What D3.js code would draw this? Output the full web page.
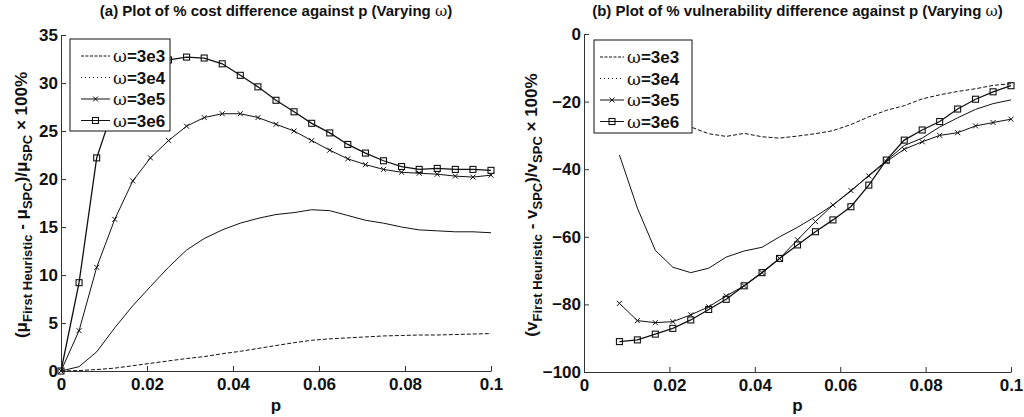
<!DOCTYPE html>
<html>
<head>
<meta charset="utf-8">
<script src="https://cdn.jsdelivr.net/npm/d3@7/dist/d3.min.js"></script>
<style>
  html, body { margin: 0; padding: 0; background: #fff; }
  svg { display: block; }
  text { font-family: "Liberation Sans", Arial, sans-serif; font-weight: bold; fill: #111; }
</style>
</head>
<body>
<svg id="chart" width="1024" height="417"></svg>
<script>
// ---- data ----
const pValues = [0, 0.0042, 0.0083, 0.0125, 0.0167, 0.0208, 0.025, 0.0292, 0.0333, 0.0375, 0.0417, 0.0458,
  0.05, 0.0542, 0.0583, 0.0625, 0.0667, 0.0708, 0.075, 0.0792, 0.0833, 0.0875, 0.0917, 0.0958, 0.1];

const seriesNames = ["3e3", "3e4", "3e5", "3e6"];

// (a) % cost difference
const cost3e3 = [0, 0.05, 0.15, 0.3, 0.55, 0.8, 1.05, 1.3, 1.5, 1.8, 2.05, 2.35, 2.65, 2.95, 3.2, 3.35, 3.45, 3.55, 3.65, 3.7, 3.75, 3.75, 3.8, 3.85, 3.9];
const cost3e4 = [0, 0.45, 2.0, 4.5, 6.8, 8.8, 10.8, 12.6, 13.8, 14.7, 15.4, 15.9, 16.3, 16.5, 16.8, 16.7, 16.2, 15.7, 15.4, 15.0, 14.7, 14.6, 14.5, 14.5, 14.4];
const cost3e5 = [0, 4.2, 10.8, 15.8, 19.8, 22.2, 24.0, 25.5, 26.4, 26.8, 26.8, 26.4, 25.7, 25.0, 24.0, 23.0, 22.1, 21.5, 21.0, 20.7, 20.6, 20.5, 20.3, 20.2, 20.4];
const cost3e6 = [0, 9.2, 22.2, 27.8, 31.0, 32.3, 32.4, 32.7, 32.6, 32.0, 30.8, 29.6, 28.2, 27.0, 25.8, 24.8, 23.6, 22.7, 21.9, 21.3, 21.0, 21.1, 21.0, 21.0, 20.9];

// (b) % vulnerability difference (starts at pValues[2])
const vulStart = 2;
const vul3e3 = [-20, -23, -25, -26.5, -27.5, -29.5, -30.3, -29.4, -30.4, -30.8, -30.2, -29.5, -28.6, -26.8, -24.5, -22.6, -21.2, -19.2, -18.0, -17.0, -16.2, -15.2, -14.7];
const vul3e4 = [-35.8, -51.5, -64, -69, -70.6, -69.3, -66, -64.2, -63.1, -60, -57.2, -54, -50.6, -46.5, -41.8, -37.5, -33, -30.8, -27.5, -24.8, -22.3, -20.6, -19.5];
const vul3e5 = [-79.7, -84.8, -85.4, -85.1, -83.1, -80.7, -77.5, -74.5, -70.6, -66.4, -60.9, -55.5, -50.6, -46.3, -42.0, -37.8, -34.1, -31.9, -30.0, -29.2, -27.2, -26.2, -25.2];
const vul3e6 = [-91.0, -90.5, -88.8, -87.1, -84.6, -81.5, -78.5, -74.5, -70.6, -66.4, -62.4, -58.5, -55.0, -51.1, -44.7, -37.3, -31.4, -28.4, -25.9, -22.2, -19.3, -17.1, -15.3];

const xTicks = [0, 0.02, 0.04, 0.06, 0.08, 0.1];
const yTicksA = [0, 5, 10, 15, 20, 25, 30, 35];
const yTicksB = [-100, -80, -60, -40, -20, 0];

// ---- styles per series ----
const styles = {
  "3e3": { dash: "4,2", width: 1, marker: null, legendDash: "3,1.5" },
  "3e4": { dash: null, width: 1, marker: null, legendDash: "1,3" },
  "3e5": { dash: null, width: 1, marker: "x", legendDash: null },
  "3e6": { dash: null, width: 1.3, marker: "square", legendDash: null }
};

const svg = d3.select("#chart");
svg.append("rect").attr("width", 1024).attr("height", 417).attr("fill", "#fff");

function drawPanel(cfg) {
  const x = d3.scaleLinear().domain([0, 0.1]).range(cfg.xr);
  const y = d3.scaleLinear().domain(cfg.ydom).range(cfg.yr);
  const g = svg.append("g");

  // axes
  const xAxis = d3.axisBottom(x).tickValues(xTicks).tickSizeInner(-5).tickSizeOuter(0).tickPadding(7)
    .tickFormat(d => d === 0 ? "0" : d === 0.1 ? "0.1" : d3.format(".2f")(d));
  const yAxis = d3.axisLeft(y).tickValues(cfg.yticks).tickSizeInner(-5).tickSizeOuter(0).tickPadding(3)
    .tickFormat(d3.format("d"));
  const gx = g.append("g").attr("transform", `translate(0,${cfg.yr[0]})`).call(xAxis);
  const gy = g.append("g").attr("transform", `translate(${cfg.xr[0]},0)`).call(yAxis);
  [gx, gy].forEach(a => {
    a.selectAll("path.domain").attr("stroke", "#333").attr("stroke-width", 1);
    a.selectAll(".tick line").attr("stroke", "#333");
    a.selectAll(".tick text").attr("font-size", 17).attr("font-weight", "bold")
      .attr("font-family", "'Liberation Sans', Arial, sans-serif").attr("fill", "#111");
  });

  // series
  const line = d3.line().x(d => x(d[0])).y(d => y(d[1]));
  cfg.series.forEach((vals, i) => {
    const name = seriesNames[i];
    const st = styles[name];
    const pts = vals.map((v, j) => [pValues[j + cfg.start], v]);
    g.append("path").attr("d", line(pts)).attr("fill", "none").attr("stroke", "#111")
      .attr("stroke-width", st.width).attr("stroke-dasharray", st.dash);
    if (st.marker) drawMarkers(g, pts.map(p => [x(p[0]), y(p[1])]), st.marker);
  });

  // title
  svg.append("text").attr("x", (cfg.xr[0] + cfg.xr[1]) / 2).attr("y", 16)
    .attr("text-anchor", "middle").attr("font-size", 15)
    .call(t => {
      t.append("tspan").text(cfg.title);
      t.append("tspan").attr("font-family", "'DejaVu Serif', serif").attr("font-weight", "normal").text("ω");
      t.append("tspan").text(")");
    });

  // x label
  svg.append("text").attr("x", (cfg.xr[0] + cfg.xr[1]) / 2).attr("y", 411)
    .attr("text-anchor", "middle").attr("font-size", 17).text("p");

  // y label
  const yl = svg.append("text")
    .attr("transform", `translate(${cfg.ylx},${(cfg.yr[0] + cfg.yr[1]) / 2 + 2}) rotate(-90)`)
    .attr("text-anchor", "middle").attr("font-size", 17);
  const sym = cfg.sym;
  const parts = [
    ["(" + sym, 0], ["First Heuristic", 1], [" - " + sym, 0], ["SPC", 1], [")/" + sym, 0], ["SPC", 1], [" × 100%", 0]
  ];
  let prev = 0;
  parts.forEach(([txt, sub]) => {
    const dy = (sub ? 5 : 0) - prev;
    prev = sub ? 5 : 0;
    yl.append("tspan").attr("dy", dy).attr("font-size", sub ? 13 : 17).text(txt);
  });

  // legend
  const lg = svg.append("g");
  const L = cfg.legend;
  lg.append("rect").attr("x", L.x).attr("y", L.y).attr("width", L.w).attr("height", L.h)
    .attr("fill", "#fff").attr("stroke", "#111").attr("stroke-width", 1);
  seriesNames.forEach((name, i) => {
    const st = styles[name];
    const cy = L.y + 17 + i * 21.5;
    lg.append("line").attr("x1", L.l1).attr("x2", L.l2).attr("y1", cy).attr("y2", cy)
      .attr("stroke", "#111").attr("stroke-width", 1)
      .attr("stroke-dasharray", st.legendDash);
    if (st.marker) drawMarkers(lg, [[(L.l1 + L.l2) / 2, cy]], st.marker);
    const t = lg.append("text").attr("x", L.tx).attr("y", cy + 6).attr("font-size", 17);
    t.append("tspan").attr("font-family", "'DejaVu Serif', serif").attr("font-weight", "normal").text("ω");
    t.append("tspan").text("=" + name);
  });
}

function drawMarkers(g, pts, type) {
  pts.forEach(([px, py]) => {
    if (type === "square") {
      g.append("rect").attr("x", px - 3).attr("y", py - 3).attr("width", 6).attr("height", 6)
        .attr("fill", "none").attr("stroke", "#111").attr("stroke-width", 1.1);
    } else {
      g.append("path").attr("d", `M${px - 2.5},${py - 2.5}L${px + 2.5},${py + 2.5}M${px - 2.5},${py + 2.5}L${px + 2.5},${py - 2.5}`)
        .attr("stroke", "#111").attr("stroke-width", 1);
    }
  });
}

drawPanel({
  xr: [61, 491], yr: [371, 35], ydom: [0, 35], yticks: yTicksA, start: 0,
  series: [cost3e3, cost3e4, cost3e5, cost3e6],
  title: "(a) Plot of % cost difference against p (Varying ",
  sym: "μ", ylx: 27,
  legend: { x: 70, y: 39, w: 100, h: 92, l1: 81, l2: 110, tx: 113 }
});
drawPanel({
  xr: [584, 1011], yr: [372, 34], ydom: [-100, 0], yticks: yTicksB, start: vulStart,
  series: [vul3e3, vul3e4, vul3e5, vul3e6],
  title: "(b) Plot of % vulnerability difference against p (Varying ",
  sym: "v", ylx: 537,
  legend: { x: 594, y: 40, w: 98, h: 93, l1: 600, l2: 624, tx: 627 }
});
</script>
</body>
</html>
